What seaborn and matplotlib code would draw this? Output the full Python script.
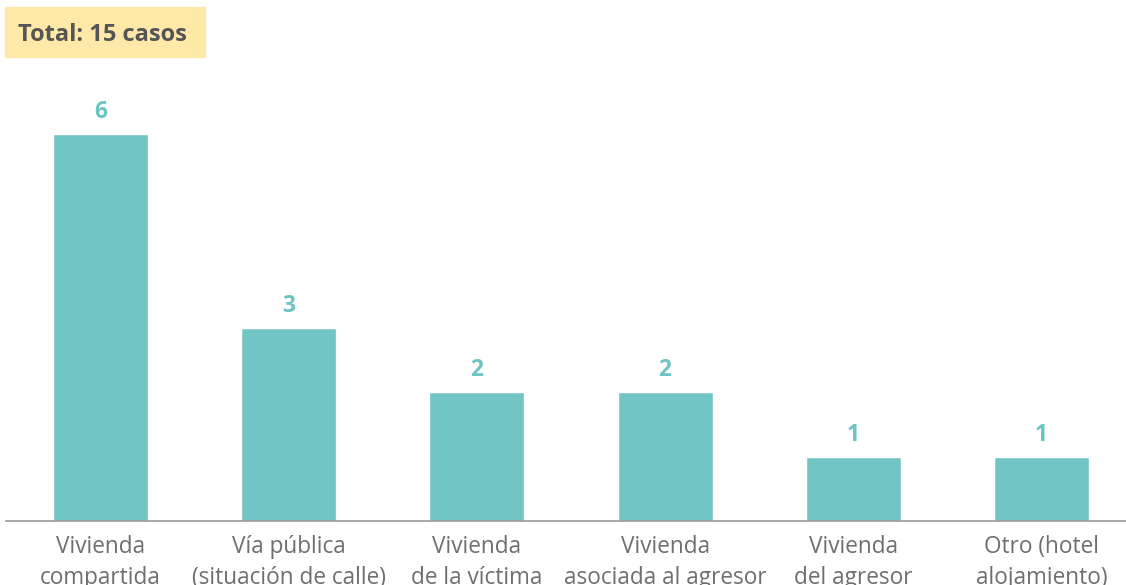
import matplotlib
matplotlib.use("Agg")
import matplotlib.pyplot as plt
import seaborn as sns
import pandas as pd

categories = ["Vivienda\ncompartida", "Vía pública\n(situación de calle)", "Vivienda\nde la víctima",
              "Vivienda\nasociada al agresor", "Vivienda\ndel agresor", "Otro (hotel\nalojamiento)"]
values = [6, 3, 2, 2, 1, 1]
title_text = "Total: 15 casos"

sns.set_theme(style="white")
plt.rcParams['font.family'] = ['Open Sans', 'DejaVu Sans']

df = pd.DataFrame({"cat": categories, "val": values})

W, H = 1126, 585
fig = plt.figure(figsize=(W / 100, H / 100), dpi=100)
ax = fig.add_axes([6 / W, (H - 521) / H, (1126 - 6) / W, (521 - 69.5) / H])

teal = "#72C5C5"
sns.barplot(data=df, x="cat", y="val", color=teal, width=0.505, saturation=1, ax=ax)

ax.set_xlim(-0.502, 5.449)
ax.set_ylim(0, 7)
for s in ["top", "right", "left"]:
    ax.spines[s].set_visible(False)
ax.spines["bottom"].set_color("#999999")
ax.spines["bottom"].set_linewidth(1.2)
ax.set_yticks([])
ax.set_xlabel("")
ax.set_ylabel("")
ax.tick_params(axis="x", length=0, pad=10, labelsize=16.3, labelcolor="#6f6f6f")
for lbl in ax.get_xticklabels():
    lbl.set_linespacing(1.4)

for i, v in enumerate(values):
    ax.annotate(str(v), (i, v), xytext=(0, 7), textcoords="offset points",
                ha="center", va="bottom", fontsize=16.5, fontweight="bold", color="#6CC4C4")

fig.patches.append(plt.Rectangle((5 / W, 1 - 57 / H), 200 / W, 50 / H,
                                 transform=fig.transFigure, color="#FFE9A8", zorder=0))
fig.text(18 / W, 1 - 35 / H, title_text, ha="left", va="center", fontsize=17,
         fontweight="bold", color="#555555")

fig.savefig("out.png", dpi=100)
